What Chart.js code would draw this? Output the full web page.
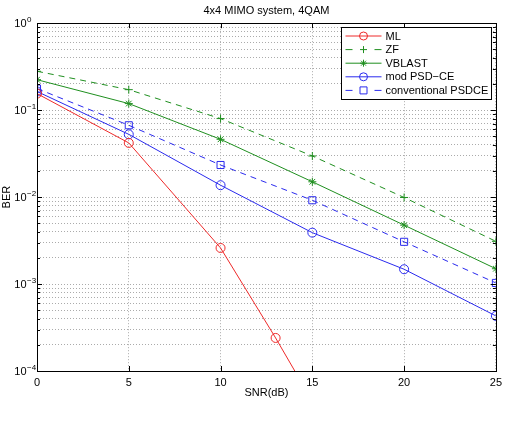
<!DOCTYPE html>
<html>
<head>
<meta charset="utf-8">
<script src="https://cdn.jsdelivr.net/npm/chart.js@4/dist/chart.umd.min.js"></script>
<style>
  html, body { margin: 0; padding: 0; background: #fff; }
  #wrap { width: 507px; height: 426px; }
</style>
</head>
<body>
<div id="wrap"><canvas id="ber-chart" width="507" height="426"></canvas></div>
<script>
// SNR points (dB)
const snr = [0, 5, 10, 15, 20, 25];
const snrML = [0, 5, 10, 13, 15];

// BER curves
const berML = [0.155, 0.042, 0.0026, 0.00024, 0.000045];
const berZF = [0.28, 0.172, 0.08, 0.0297, 0.0099, 0.0031];
const berVBLAST = [0.224, 0.119, 0.0462, 0.015, 0.00476, 0.0015];
const berModPSD = [0.164, 0.0527, 0.0137, 0.0039, 0.00148, 0.00043];
const berConvPSD = [0.177, 0.067, 0.0234, 0.0092, 0.00306, 0.00103];

const xTicks = [0, 5, 10, 15, 20, 25];
const yDecades = [-4, -3, -2, -1, 0];

const RED = "#ee2a2a";
const GREEN = "#1f8f1f";
const BLUE = "#2a2aee";
const FONT = "'Liberation Sans', Arial, Helvetica, sans-serif";

Chart.defaults.font.family = FONT;
Chart.defaults.font.size = 11;
Chart.defaults.color = "#000";

const pts = (xs, ys) => xs.map((x, i) => ({ x: x, y: ys[i] }));

function drawMarker(ctx, style, r, x, y) {
  ctx.beginPath();
  if (style === "circle") {
    ctx.arc(x, y, r, 0, Math.PI * 2);
  } else if (style === "rect") {
    ctx.rect(x - r, y - r, r * 2, r * 2);
  } else if (style === "cross") {
    ctx.moveTo(x - r, y); ctx.lineTo(x + r, y);
    ctx.moveTo(x, y - r); ctx.lineTo(x, y + r);
  } else if (style === "star") {
    ctx.moveTo(x - r, y); ctx.lineTo(x + r, y);
    ctx.moveTo(x, y - r); ctx.lineTo(x, y + r);
    const d = r * 0.7;
    ctx.moveTo(x - d, y - d); ctx.lineTo(x + d, y + d);
    ctx.moveTo(x - d, y + d); ctx.lineTo(x + d, y - d);
  }
  ctx.stroke();
}

// box, inside ticks and 10^n labels like matlab
const framePlugin = {
  id: "frame",
  afterDraw(chart) {
    const ctx = chart.ctx;
    const a = chart.chartArea;
    const xs = chart.scales.x, ys = chart.scales.y;
    ctx.save();
    ctx.strokeStyle = "#000";
    ctx.lineWidth = 1;
    ctx.strokeRect(Math.round(a.left) + 0.5, Math.round(a.top) + 0.5,
      Math.round(a.right - a.left), Math.round(a.bottom - a.top));
    ctx.beginPath();
    xTicks.forEach(v => {
      const px = Math.round(xs.getPixelForValue(v)) + 0.5;
      ctx.moveTo(px, a.bottom); ctx.lineTo(px, a.bottom - 5);
      ctx.moveTo(px, a.top); ctx.lineTo(px, a.top + 5);
    });
    yDecades.forEach(e => {
      for (let m = 1; m <= 9; m++) {
        const v = m * Math.pow(10, e);
        if (v > 1) break;
        const len = m === 1 ? 5 : 3;
        const py = Math.round(ys.getPixelForValue(v)) + 0.5;
        ctx.moveTo(a.left, py); ctx.lineTo(a.left + len, py);
        ctx.moveTo(a.right, py); ctx.lineTo(a.right - len, py);
      }
    });
    ctx.stroke();

    ctx.fillStyle = "#000";
    ctx.textBaseline = "middle";
    yDecades.forEach(e => {
      const py = ys.getPixelForValue(Math.pow(10, e));
      ctx.font = "11px " + FONT;
      ctx.textAlign = "right";
      ctx.fillText("10", ys.right - 10.5, py + 1);
      ctx.font = "8px " + FONT;
      ctx.textAlign = "left";
      ctx.fillText(e === 0 ? "0" : "\u2212" + (-e), ys.right - 10, py - 3);
    });

    // legend box
    const lw = 150, lh = 72;
    const lx = Math.round(a.right - lw - 5) + 0.5;
    const ly = Math.round(a.top + 4) + 0.5;
    ctx.fillStyle = "#fff";
    ctx.fillRect(lx, ly, lw, lh);
    ctx.strokeStyle = "#000";
    ctx.strokeRect(lx, ly, lw, lh);
    chart.data.datasets.forEach((ds, i) => {
      const ry = ly + 8.5 + i * 13.6;
      ctx.strokeStyle = ds.borderColor;
      ctx.lineWidth = 1;
      ctx.beginPath();
      if (ds.borderDash) {
        ctx.moveTo(lx + 4, ry); ctx.lineTo(lx + 11, ry);
        ctx.moveTo(lx + 33, ry); ctx.lineTo(lx + 40, ry);
      } else {
        ctx.moveTo(lx + 4, ry); ctx.lineTo(lx + 40, ry);
      }
      ctx.stroke();
      drawMarker(ctx, ds.pointStyle, ds.legendR, lx + 22, ry);
      ctx.fillStyle = "#000";
      ctx.font = "11px " + FONT;
      ctx.textAlign = "left";
      ctx.fillText(ds.label, lx + 44, ry + 0.5);
    });
    ctx.restore();
  }
};

function series(label, xs, ys, color, style, radius, dashed) {
  return {
    label: label,
    data: pts(xs, ys),
    borderColor: color,
    borderWidth: 1,
    borderDash: dashed ? [6, 5] : undefined,
    backgroundColor: "rgba(0,0,0,0)",
    pointStyle: style,
    pointRadius: radius,
    pointBorderWidth: 1,
    pointBorderColor: color,
    pointBackgroundColor: "rgba(0,0,0,0)",
    tension: 0,
    fill: false,
    legendR: style === "rect" ? 3.5 : (style === "circle" ? 4 : 3.5)
  };
}

new Chart(document.getElementById("ber-chart"), {
  type: "line",
  data: {
    datasets: [
      series("ML", snrML, berML, RED, "circle", 4.5, false),
      series("ZF", snr, berZF, GREEN, "cross", 4, true),
      series("VBLAST", snr, berVBLAST, GREEN, "star", 4, false),
      series("mod PSD\u2212CE", snr, berModPSD, BLUE, "circle", 4.5, false),
      series("conventional PSDCE", snr, berConvPSD, BLUE, "rect", 5, true),
    ],
  },
  plugins: [framePlugin],
  options: {
    responsive: false,
    animation: false,
    layout: { padding: { left: 0, right: 8, top: 0, bottom: 0 } },
    plugins: {
      legend: { display: false },
      tooltip: { enabled: false },
      title: {
        display: true,
        text: "4x4 MIMO system, 4QAM",
        fullSize: false,
        font: { size: 11, weight: "normal" },
        color: "#000",
        padding: { top: 4, bottom: 6 },
      },
    },
    scales: {
      x: {
        type: "linear",
        min: 0,
        max: 25,
        afterBuildTicks: s => { s.ticks = xTicks.map(v => ({ value: v })); },
        afterFit: s => { s.height = 55; },
        ticks: { padding: 5, color: "#000", font: { size: 11 } },
        grid: { color: "#ababab", lineWidth: 1, drawTicks: false },
        border: { display: false, dash: [1, 2] },
        title: { display: true, text: "SNR(dB)", color: "#000", font: { size: 11 }, padding: { top: 0, bottom: 26 } },
      },
      y: {
        type: "logarithmic",
        min: 1e-4,
        max: 1,
        afterBuildTicks: s => {
          const t = [];
          yDecades.forEach(e => {
            for (let m = 1; m <= 9; m++) {
              const v = m * Math.pow(10, e);
              if (v <= 1) t.push({ value: v });
            }
          });
          s.ticks = t;
        },
        afterFit: s => { s.width = 37; },
        ticks: { display: false },
        grid: { color: "#ababab", lineWidth: 1, drawTicks: false },
        border: { display: false, dash: [1, 2] },
        title: { display: true, text: "BER", color: "#000", font: { size: 11 }, padding: { top: 0, bottom: 0 } },
      },
    },
  },
});
</script>
</body>
</html>
